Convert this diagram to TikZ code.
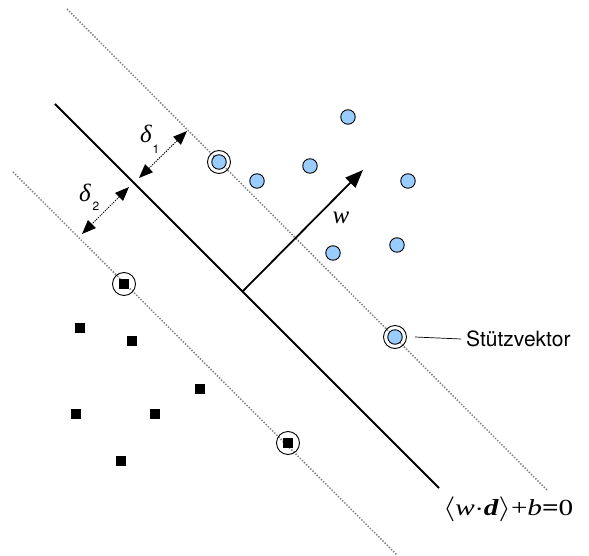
\documentclass[tikz,border=0pt]{standalone}
\usepackage{amsmath}
\usepackage{graphicx}
\usepackage{fontspec}
\setmainfont{Liberation Serif}
\setsansfont{TeX Gyre Heros}
\usetikzlibrary{arrows.meta}
\definecolor{ptblue}{RGB}{153,204,255}
\definecolor{dotgray}{RGB}{128,128,128}
\tikzset{
  posdot/.style={circle,draw=black,fill=ptblue,line width=0.9pt,minimum size=14.5pt,inner sep=0pt},
  negdot/.style={rectangle,fill=black,minimum size=10pt,inner sep=0pt},
  svring/.style={circle,draw=black,line width=0.9pt,minimum size=23pt,inner sep=0pt},
  marginline/.style={dotgray,line width=1.5pt,dash pattern=on 1.4pt off 1.6pt},
  hyper/.style={black,line width=1.8pt},
  dist/.style={black,line width=1pt,dash pattern=on 1.2pt off 1.2pt,{Triangle[length=14pt,width=11pt]}-{Triangle[length=14pt,width=11pt]}},
  lbl/.style={inner sep=0pt},
  greek/.style={inner sep=0pt,font=\fontsize{25}{25}\selectfont\itshape},
  subs/.style={inner sep=0pt,font=\fontsize{12}{12}\selectfont\sffamily}
}
\begin{document}
\begin{tikzpicture}[x=1pt,y=-1pt]
\useasboundingbox (0,0) rectangle (589,556);
% lines
\coordinate (u1) at (67,9);
\coordinate (u2) at (547,490);
\coordinate (h1) at (55,104);
\coordinate (h2) at (439,488);
\coordinate (l1) at (13,172);
\coordinate (l2) at (397,555);
\draw[marginline] (u1) -- (u2);
\draw[marginline] (l1) -- (l2);
\draw[hyper] (h1) -- (h2);
% positive points
\node[posdot] (p1) at (348,117) {};
\node[posdot] (p2) at (219,162) {};
\node[posdot] (p3) at (310,166) {};
\node[posdot] (p4) at (257,181) {};
\node[posdot] (p5) at (408,181) {};
\node[posdot] (p6) at (333,253) {};
\node[posdot] (p7) at (397,245) {};
\node[posdot] (p8) at (395,337) {};
% negative points
\node[negdot] (n1) at (124,284) {};
\node[negdot] (n2) at (80,328) {};
\node[negdot] (n3) at (132,341) {};
\node[negdot] (n4) at (200,389) {};
\node[negdot] (n5) at (76,414) {};
\node[negdot] (n6) at (155,414) {};
\node[negdot] (n7) at (121,461) {};
\node[negdot] (n8) at (288,443) {};
% support vector rings
\node[svring] (s1) at (p2) {};
\node[svring] (s2) at (p8) {};
\node[svring] (s3) at (n1) {};
\node[svring] (s4) at (n8) {};
% w arrow
\coordinate (w0) at (243,291);
\coordinate (w1) at (363,170);
\draw[black,line width=1.8pt,-{Triangle[length=18pt,width=14pt]}] (w0) -- (w1);
\node[greek] (wl) at (341,218) {w};
% distances
\coordinate (d1a) at (139,178);
\coordinate (d1b) at (187,131);
\coordinate (d2a) at (129,187);
\coordinate (d2b) at (82,234);
\draw[dist] (d1a) -- (d1b);
\draw[dist] (d2a) -- (d2b);
\node[greek] (dl1) at (146,134) {δ};
\node[subs] (sb1) at (156,149) {1};
\node[greek] (dl2) at (85,193) {δ};
\node[subs] (sb2) at (96,206) {2};
% label
\node[lbl,anchor=west] (svl) at (466,339) {\fontsize{21}{21}\selectfont\sffamily Stützvektor};
\draw[black,line width=0.7pt] ([xshift=8pt]s2.east) -- ([xshift=-5pt]svl.west);
\node[lbl,anchor=west] (eq) at (443,509) {\scalebox{1.27}[1]{\fontsize{23}{23}\selectfont$\langle$\textit{w}$\cdot$\textbf{\textit{d}}$\rangle$+\textit{b}\textbf{=}0}};
\end{tikzpicture}
\end{document}
